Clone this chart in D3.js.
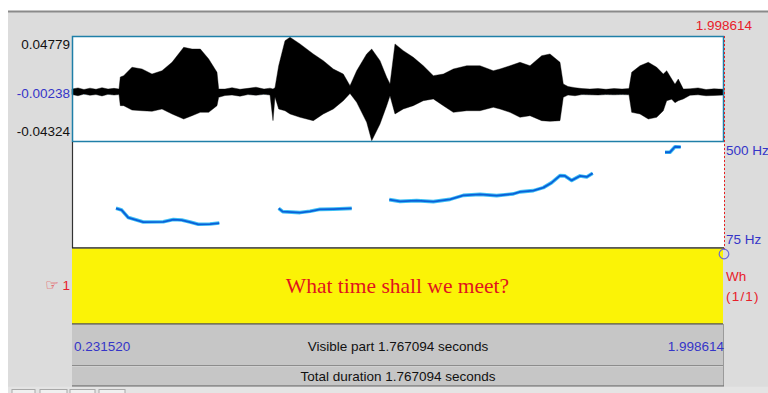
<!DOCTYPE html>
<html>
<head>
<meta charset="utf-8">
<script src="https://cdn.jsdelivr.net/npm/d3@7"></script>
<style>
  html, body { margin: 0; padding: 0; background: #ffffff; }
  svg { display: block; }
  text { font-family: "Liberation Sans", Arial, sans-serif; }
</style>
</head>
<body>
<svg id="chart" width="768" height="393"></svg>
<script>
// ---------------- DATA ----------------
const visibleStart = 0.231520;
const visibleEnd = 1.998614;
const ampTop = 0.04779;
const ampBottom = -0.04324;
const ampMid = -0.00238;
const pitchFloor = 75;
const pitchCeiling = 500;
const tierText = "What time shall we meet?";
const tierLabel = "Wh";
const tierCount = "(1/1)";
const visibleLabel = "Visible part 1.767094 seconds";
const totalLabel = "Total duration 1.767094 seconds";

// waveform envelope (seconds, max amplitude, min amplitude)
const waveTimes = [0.2315,0.2478,0.2640,0.2803,0.2966,0.3128,0.3291,0.3454,0.3589,
  0.3624,0.3716,0.3941,0.4212,0.4483,0.4754,0.5026,0.5343,0.5568,0.5793,0.6020,0.6245,0.6291,
  0.6462,0.6652,0.6868,0.7085,0.7302,0.7519,0.7682,0.7763,0.7817,
  0.7917,0.8088,0.8224,0.8495,0.8855,0.9126,0.9397,0.9668,0.9850,1.0031,1.0302,1.0438,1.0663,1.0844,1.0934,
  1.1069,1.1294,1.1565,1.1836,1.2108,1.2379,1.2650,1.3013,1.3373,1.3734,1.3915,1.4186,1.4457,1.4728,1.5045,1.5270,1.5541,1.5631,
  1.5758,1.5948,1.6138,1.6354,1.6571,1.6788,1.7005,1.7222,1.7411,
  1.7484,1.7709,1.7934,1.8162,1.8341,1.8433,1.8569,1.8658,1.8747,1.8883,
  1.9065,1.9282,1.9499,1.9716,1.9986];
const waveMax = [0.0018,0.0028,0.0014,0.0026,0.0016,0.0030,0.0018,0.0024,0.0018,
  0.0122,0.0134,0.0207,0.0192,0.0148,0.0177,0.0250,0.0380,0.0365,0.0365,0.0279,0.0163,0.0018,
  0.0018,0.0030,0.0016,0.0024,0.0034,0.0018,0.0026,0.0018,0.0030,
  0.0220,0.0437,0.0467,0.0409,0.0322,0.0264,0.0192,0.0148,0.0047,0.0177,0.0322,0.0365,0.0264,0.0120,0.0062,
  0.0409,0.0351,0.0293,0.0220,0.0134,0.0148,0.0192,0.0220,0.0220,0.0177,0.0192,0.0220,0.0250,0.0220,0.0307,0.0322,0.0250,0.0062,
  0.0040,0.0030,0.0022,0.0018,0.0022,0.0016,0.0022,0.0018,0.0022,
  0.0163,0.0220,0.0250,0.0207,0.0148,0.0177,0.0105,0.0060,0.0105,0.0018,
  0.0020,0.0028,0.0014,0.0020,0.0016];
const waveMin = [-0.0030,-0.0040,-0.0026,-0.0036,-0.0030,-0.0042,-0.0028,-0.0034,-0.0030,
  -0.0126,-0.0126,-0.0164,-0.0170,-0.0175,-0.0155,-0.0198,-0.0242,-0.0213,-0.0184,-0.0184,-0.0126,-0.0054,
  -0.0038,-0.0034,-0.0044,-0.0030,-0.0036,-0.0028,-0.0034,-0.0256,-0.0050,
  -0.0155,-0.0170,-0.0198,-0.0227,-0.0256,-0.0198,-0.0155,-0.0083,-0.0020,-0.0097,-0.0270,-0.0430,-0.0285,-0.0126,-0.0040,
  -0.0198,-0.0155,-0.0126,-0.0083,-0.0068,-0.0126,-0.0184,-0.0170,-0.0170,-0.0140,-0.0155,-0.0184,-0.0227,-0.0213,-0.0256,-0.0262,-0.0256,-0.0054,
  -0.0034,-0.0040,-0.0030,-0.0032,-0.0034,-0.0030,-0.0032,-0.0030,-0.0032,
  -0.0184,-0.0198,-0.0242,-0.0227,-0.0170,-0.0083,-0.0070,-0.0100,-0.0083,-0.0068,
  -0.0036,-0.0032,-0.0040,-0.0038,-0.0034];

// pitch contour segments (seconds, Hz)
const pitchTimes1 = [0.3508,0.3662,0.3841,0.3977,0.4248,0.4790,0.5061,0.5288,0.5513,0.5738,0.6055,0.6307];
const pitchHz1    = [234,227,197,191,179,180,189,187,179,170,171,175];
const pitchTimes2 = [0.7917,0.8026,0.8270,0.8495,0.8766,0.9037,0.9397,0.9896];
const pitchHz2    = [234,221,219,217,222,230,231,234];
const pitchTimes3 = [1.0915,1.1205,1.1658,1.2108,1.2560,1.2921,1.3373,1.3826,1.4276,1.4457,1.4818,1.5089,1.5316,1.5541,1.5677,1.5858,1.6083,1.6265,1.6427];
const pitchHz3    = [269,262,265,261,270,286,290,285,292,300,305,317,337,365,364,346,364,360,375];
const pitchTimes4 = [1.8387,1.8523,1.8658,1.8813];
const pitchHz4    = [459,459,481,480];

// ---------------- DRAW ----------------
const svg = d3.select("#chart");
const W = 768, H = 393;
const L = 72, R = 724;
const waveTop = 36, waveBot = 142, pitchBot = 248, tierBot = 324, visBot = 366, totBot = 386;

const bgGray = "#dcdcdc", barGray = "#c6c6c6";
const blue = "#3535c8", red = "#e8202a";

// background
svg.append("rect").attr("x", 0).attr("y", 0).attr("width", W).attr("height", H).attr("fill", "#ffffff");
svg.append("rect").attr("x", 8).attr("y", 11).attr("width", W - 8).attr("height", H - 11).attr("fill", bgGray);
svg.append("line").attr("x1", 8).attr("x2", W).attr("y1", 11.5).attr("y2", 11.5).attr("stroke", "#8a8a8a").attr("stroke-width", 2);

const x = d3.scaleLinear().domain([visibleStart, visibleEnd]).range([L, R]);
const yA = d3.scaleLinear().domain([ampBottom, ampTop]).range([waveBot - 1, waveTop]);
const yP = d3.scaleLinear().domain([pitchFloor, pitchCeiling]).range([pitchBot, waveBot]);

// waveform panel
svg.append("rect").attr("x", L).attr("y", waveTop).attr("width", R - L).attr("height", waveBot - waveTop).attr("fill", "#ffffff");
// pitch panel
svg.append("rect").attr("x", L).attr("y", waveBot).attr("width", R - L).attr("height", pitchBot - waveBot).attr("fill", "#ffffff");

// zero (mid) dotted line
svg.append("line").attr("x1", L).attr("x2", R).attr("y1", yA(ampMid)).attr("y2", yA(ampMid))
  .attr("stroke", "#33b5e5").attr("stroke-width", 1).attr("stroke-dasharray", "1,2");

const waveData = waveTimes.map((t, i) => ({t, hi: waveMax[i], lo: waveMin[i]}));
const area = d3.area().x(d => x(d.t)).y0(d => yA(d.lo)).y1(d => yA(d.hi)).curve(d3.curveLinear);
svg.append("path").datum(waveData).attr("d", area).attr("fill", "#000000").attr("stroke", "#000").attr("stroke-width", 0.4);

// waveform border
svg.append("rect").attr("x", L + 0.5).attr("y", waveTop + 0.5).attr("width", R - L - 1).attr("height", waveBot - waveTop - 1)
  .attr("fill", "none").attr("stroke", "#1f7fa8").attr("stroke-width", 1.5);
// pitch panel border
svg.append("line").attr("x1", L + 0.5).attr("x2", L + 0.5).attr("y1", waveBot).attr("y2", pitchBot).attr("stroke", "#333").attr("stroke-width", 1.2);
svg.append("line").attr("x1", L).attr("x2", R).attr("y1", pitchBot).attr("y2", pitchBot).attr("stroke", "#222").attr("stroke-width", 1.5);

// pitch contours
const pitchSegs = [[pitchTimes1, pitchHz1], [pitchTimes2, pitchHz2], [pitchTimes3, pitchHz3], [pitchTimes4, pitchHz4]];
const line = d3.line().x(d => x(d[0])).y(d => yP(d[1]));
pitchSegs.forEach(([ts, hz]) => {
  const pts = ts.map((t, i) => [t, hz[i]]);
  svg.append("path").datum(pts).attr("d", line).attr("fill", "none").attr("stroke", "#3fc0f5").attr("stroke-width", 3.6).attr("stroke-linejoin", "round");
  svg.append("path").datum(pts).attr("d", line).attr("fill", "none").attr("stroke", "#0a5fd8").attr("stroke-width", 1.8).attr("stroke-linejoin", "round");
});

// tier
svg.append("rect").attr("x", L).attr("y", pitchBot + 0.75).attr("width", R - L - 1).attr("height", tierBot - pitchBot - 0.75).attr("fill", "#fbf306");
svg.append("line").attr("x1", L).attr("x2", R - 1).attr("y1", tierBot).attr("y2", tierBot).attr("stroke", "#555").attr("stroke-width", 1.5);
svg.append("text").attr("x", 397.5).attr("y", 285).attr("dy", "0.35em").attr("text-anchor", "middle")
  .attr("fill", "#e0141e").style("font-family", "'Liberation Serif', 'Times New Roman', serif").style("font-size", "21.5px").text(tierText);

// visible-part bar
svg.append("rect").attr("x", L).attr("y", tierBot + 0.75).attr("width", R - L - 1).attr("height", visBot - tierBot - 1.5).attr("fill", barGray);
svg.append("line").attr("x1", L).attr("x2", R - 1).attr("y1", visBot - 0.5).attr("y2", visBot - 0.5).attr("stroke", "#8c8c8c").attr("stroke-width", 1);
svg.append("line").attr("x1", R - 0.5).attr("x2", R - 0.5).attr("y1", tierBot).attr("y2", totBot).attr("stroke", "#9a9a9a").attr("stroke-width", 1);
// total bar
svg.append("rect").attr("x", L).attr("y", visBot + 0.5).attr("width", R - L - 1).attr("height", totBot - visBot - 1).attr("fill", barGray);
svg.append("line").attr("x1", L).attr("x2", R).attr("y1", totBot).attr("y2", totBot).attr("stroke", "#7a7a7a").attr("stroke-width", 1.5);

// bottom area & buttons
svg.append("rect").attr("x", 8).attr("y", totBot + 0.75).attr("width", W - 8).attr("height", H - totBot).attr("fill", "#e4e4e4");
[[12, 35], [40, 67], [70, 95], [99, 125]].forEach(([a, b]) => {
  svg.append("rect").attr("x", a).attr("y", 389.5).attr("width", b - a).attr("height", 8).attr("fill", "#f0f0f0").attr("stroke", "#a8a8a8").attr("stroke-width", 1);
});

const fs = "13.5px";
// amplitude labels
svg.append("text").attr("x", 70).attr("y", waveTop + 8).attr("dy", "0.35em").attr("text-anchor", "end").attr("fill", "#111").style("font-size", fs).text(d3.format(".5f")(ampTop));
svg.append("text").attr("x", 70).attr("y", yA(ampMid) - 1).attr("dy", "0.35em").attr("text-anchor", "end").attr("fill", blue).style("font-size", fs).text(d3.format(".5f")(ampMid).replace("\u2212", "-"));
svg.append("text").attr("x", 70).attr("y", waveBot - 11).attr("dy", "0.35em").attr("text-anchor", "end").attr("fill", "#111").style("font-size", fs).text(d3.format(".5f")(ampBottom).replace("\u2212", "-"));

// cursor time top-right
svg.append("text").attr("x", 752).attr("y", 25).attr("dy", "0.35em").attr("text-anchor", "end").attr("fill", red).style("font-size", fs).text(d3.format(".6f")(visibleEnd));
// red dashed cursor line
svg.append("line").attr("x1", R + 0.5).attr("x2", R + 0.5).attr("y1", waveTop).attr("y2", pitchBot + 2)
  .attr("stroke", "#e82020").attr("stroke-width", 1).attr("stroke-dasharray", "2,2");

// pitch labels
svg.append("text").attr("x", 726).attr("y", yP(pitchCeiling) + 8).attr("dy", "0.35em").attr("fill", blue).style("font-size", fs).text(pitchCeiling + " Hz");
svg.append("text").attr("x", 726).attr("y", yP(pitchFloor) - 9).attr("dy", "0.35em").attr("fill", blue).style("font-size", fs).text(pitchFloor + " Hz");

// boundary circle
svg.append("circle").attr("cx", R).attr("cy", pitchBot + 6).attr("r", 4.8).attr("fill", "none").attr("stroke", "#6a6ad8").attr("stroke-width", 1.2);

// tier labels right
svg.append("text").attr("x", 726).attr("y", 276).attr("dy", "0.35em").attr("fill", red).style("font-size", fs).text(tierLabel);
svg.append("text").attr("x", 726).attr("y", 296).attr("dy", "0.35em").attr("fill", red).style("font-size", fs).style("letter-spacing", "1.2px").text(tierCount);

// tier number left
const tn = svg.append("text").attr("x", 70).attr("y", 285).attr("dy", "0.35em").attr("text-anchor", "end").attr("fill", red).style("font-size", fs);
tn.append("tspan").style("font-family", "'DejaVu Sans', sans-serif").style("font-size", "15px").text("\u261E");
tn.append("tspan").text(" 1");

// bar texts
svg.append("text").attr("x", L + 2).attr("y", 346.5).attr("dy", "0.35em").attr("fill", blue).style("font-size", fs).text(d3.format(".6f")(visibleStart));
svg.append("text").attr("x", R).attr("y", 346.5).attr("dy", "0.35em").attr("text-anchor", "end").attr("fill", blue).style("font-size", fs).text(d3.format(".6f")(visibleEnd));
svg.append("text").attr("x", 398).attr("y", 346.5).attr("dy", "0.35em").attr("text-anchor", "middle").attr("fill", "#111").style("font-size", fs).text(visibleLabel);
svg.append("text").attr("x", 398).attr("y", 376.5).attr("dy", "0.35em").attr("text-anchor", "middle").attr("fill", "#111").style("font-size", fs).text(totalLabel);
</script>
</body>
</html>
